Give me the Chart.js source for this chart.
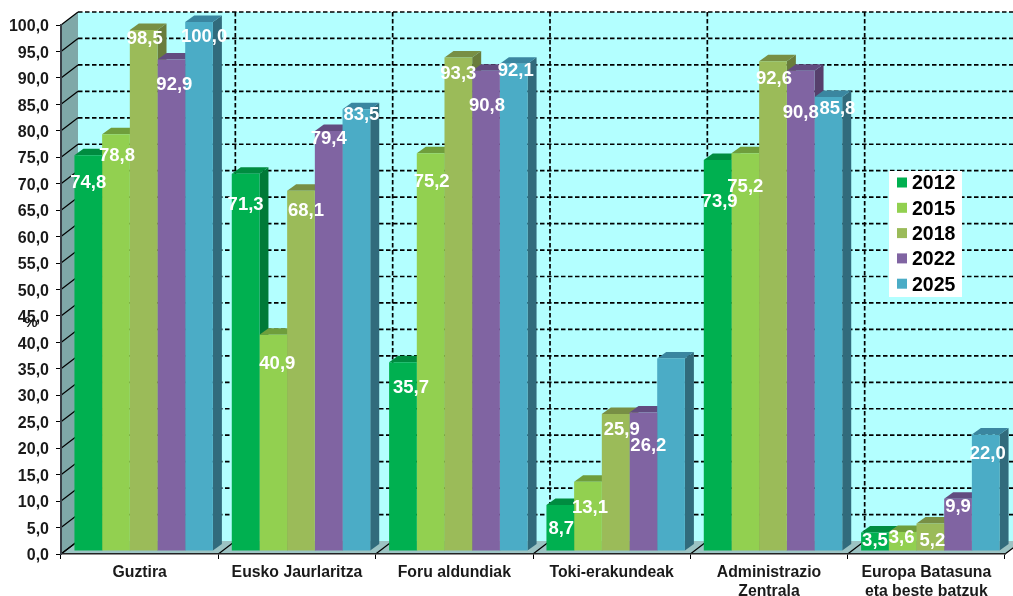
<!DOCTYPE html>
<html><head><meta charset="utf-8">
<style>html,body{margin:0;padding:0;background:#fff;overflow:hidden}canvas{display:block}</style>
<script src="https://cdn.jsdelivr.net/npm/chart.js@4"></script>
</head><body><canvas id="c" width="1013" height="596"></canvas>
<script>
const categories = ["Guztira","Eusko Jaurlaritza","Foru aldundiak","Toki-erakundeak",["Administrazio","Zentrala"],["Europa Batasuna","eta beste batzuk"]];
const years = ["2012","2015","2018","2022","2025"];
const v2012 = [74.8,71.3,35.7,8.7,73.9,3.5];
const v2015 = [78.8,40.9,75.2,13.1,75.2,3.6];
const v2018 = [98.5,68.1,93.3,25.9,92.6,5.2];
const v2022 = [92.9,79.4,90.8,26.2,90.8,9.9];
const v2025 = [100.0,83.5,92.1,36.4,85.8,22.0];
const seriesValues = [v2012,v2015,v2018,v2022,v2025];
const shownLabels = [[1,1,1,1,1,1],[1,1,1,1,1,1],[1,1,1,1,1,1],[1,1,1,1,1,1],[1,1,1,0,1,1]];

const front = ["#00B050","#92D050","#9BBB59","#8064A2","#4BACC6"];
const topFace = ["#008C40","#6F9E3C","#788F45","#624C80","#3A86A0"];
const sideFace = ["#007A38","#5F8A34","#697C3C","#563F6C","#316B7C"];
// label nudges relative to each bar's front-top centre
const nudge = [
 [[0,26],[0,30],[8,24],[1,22],[2,40],[0,7]],
 [[1,20],[4,28],[1,27],[2,25],[0,32],[-1,4]],
 [[1,7],[5,19],[0,15],[6,14],[1,16],[2,16]],
 [[3,24],[0,6],[1,34],[5,32],[0,41],[0,7]],
 [[5,13],[5,4],[2,6],[0,0],[9,10],[2,18]]
];
const BX=4,BY=-3,DX=9,DY=-6.5,WX=17,WY=-13;
const fmt=v=>v.toFixed(1).replace('.',',');
const FONT='"Liberation Sans",Arial,sans-serif';

const scene={
 id:'scene',
 beforeDraw(ch){
  const c=ch.ctx,a=ch.chartArea,x=ch.scales.x,y=ch.scales.y;
  c.save();
  c.fillStyle='#B3FFFF';
  c.fillRect(a.left+WX,a.top+WY,a.width,a.height);
  c.fillStyle='#7FA8A8';
  c.beginPath();c.moveTo(a.left,a.top);c.lineTo(a.left+WX,a.top+WY);c.lineTo(a.left+WX,a.bottom+WY);c.lineTo(a.left,a.bottom);c.closePath();c.fill();
  c.fillStyle='#9CC3C3';
  c.beginPath();c.moveTo(a.left,a.bottom);c.lineTo(a.left+WX,a.bottom+WY);c.lineTo(a.right+WX,a.bottom+WY);c.lineTo(a.right,a.bottom);c.closePath();c.fill();
  c.strokeStyle='#000';
  y.ticks.forEach(t=>{
    const p=y.getPixelForValue(t.value);
    c.setLineDash([]);c.lineWidth=1.2;
    c.beginPath();c.moveTo(a.left,p);c.lineTo(a.left+WX,p+WY);c.stroke();
    if(t.value>0){
      c.setLineDash([4.5,2.5]);c.lineWidth=1.7;
      c.beginPath();c.moveTo(a.left+WX,p+WY);c.lineTo(a.right+WX,p+WY);c.stroke();
    }
  });
  const step=a.width/categories.length;
  for(let k=0;k<=categories.length;k++){
    const p=a.left+step*k;
    c.setLineDash([]);c.lineWidth=1.2;
    c.beginPath();c.moveTo(p,a.bottom);c.lineTo(p+WX,a.bottom+WY);c.stroke();
    if(k>0){
      c.setLineDash([4.5,2.5]);c.lineWidth=1.7;
      c.beginPath();c.moveTo(p+WX,a.top+WY);c.lineTo(p+WX,a.bottom+WY);c.stroke();
    }
  }
  c.restore();
 },
 beforeDatasetsDraw(ch){
  const c=ch.ctx;
  c.save();
  c.translate(BX,BY);
  seriesValues.forEach((vals,s)=>{
    ch.getDatasetMeta(s).data.forEach(b=>{
      const l=b.x-b.width/2,r=b.x+b.width/2,t=b.y,bt=b.base;
      c.fillStyle=sideFace[s];
      c.beginPath();c.moveTo(r,t);c.lineTo(r+DX,t+DY);c.lineTo(r+DX,bt+DY);c.lineTo(r,bt);c.closePath();c.fill();
      c.fillStyle=topFace[s];
      c.beginPath();c.moveTo(l,t);c.lineTo(l+DX,t+DY);c.lineTo(r+DX,t+DY);c.lineTo(r,t);c.closePath();c.fill();
    });
  });
  c.restore();
 },
 beforeDatasetDraw(ch){ch.ctx.save();ch.ctx.translate(BX,BY);},
 afterDatasetDraw(ch){ch.ctx.restore();},
 afterDatasetsDraw(ch){
  const c=ch.ctx;
  c.save();
  c.font='bold 18.5px '+FONT;c.fillStyle='#fff';c.textAlign='center';c.textBaseline='middle';
  seriesValues.forEach((vals,s)=>{
    const m=ch.getDatasetMeta(s);
    vals.forEach((v,k)=>{
      if(!shownLabels[s][k])return;
      const b=m.data[k],n=nudge[s][k];
      c.fillText(fmt(v),b.x+BX+n[0],b.y+BY+n[1]+1.5);
    });
  });
  // axis unit
  c.fillStyle='#1a1a1a';c.font='bold 15px '+FONT;
  c.fillText('%',31,322.5);
  // legend
  const lx=889,ly=171,lw=73,lh=126,row=25.3;
  c.fillStyle='#fff';c.fillRect(lx,ly,lw,lh);
  c.font='bold 19.5px '+FONT;c.textAlign='left';
  years.forEach((yr,i)=>{
    const cy=ly+11.5+row*i;
    c.fillStyle=front[i];c.fillRect(lx+8,cy-5,10,10);
    c.fillStyle='#000';c.fillText(yr,lx+23,cy+1.5);
  });
  c.restore();
 }
};

new Chart(document.getElementById('c'),{
 type:'bar',
 data:{labels:categories,datasets:seriesValues.map((d,s)=>({
   label:years[s],data:d,backgroundColor:front[s],borderWidth:0,clip:false,
   categoryPercentage:0.88,barPercentage:1
 }))},
 plugins:[scene],
 options:{
  responsive:false,animation:false,
  layout:{padding:{top:25,right:8,left:0,bottom:0}},
  plugins:{legend:{display:false},tooltip:{enabled:false},title:{display:false}},
  scales:{
   x:{
    afterFit(s){s.height=42;},
    grid:{drawOnChartArea:false,drawTicks:true,tickLength:5,color:'#000',offset:true},
    border:{display:true,color:'#222',width:1.5},
    ticks:{color:'#1a1a1a',font:{family:FONT,weight:'bold',size:15.8,lineHeight:1.2},padding:4,maxRotation:0,autoSkip:false}
   },
   y:{
    min:0,max:100,
    afterFit(s){s.width=61;},
    grid:{drawOnChartArea:false,drawTicks:true,tickLength:5,color:'#000'},
    border:{display:true,color:'#3a4048',width:2},
    ticks:{stepSize:5,autoSkip:false,color:'#1a1a1a',font:{family:FONT,weight:'bold',size:16,lineHeight:'3.5px'},padding:7,callback:v=>['',fmt(v)]}
   }
  }
 }
});
</script></body></html>
